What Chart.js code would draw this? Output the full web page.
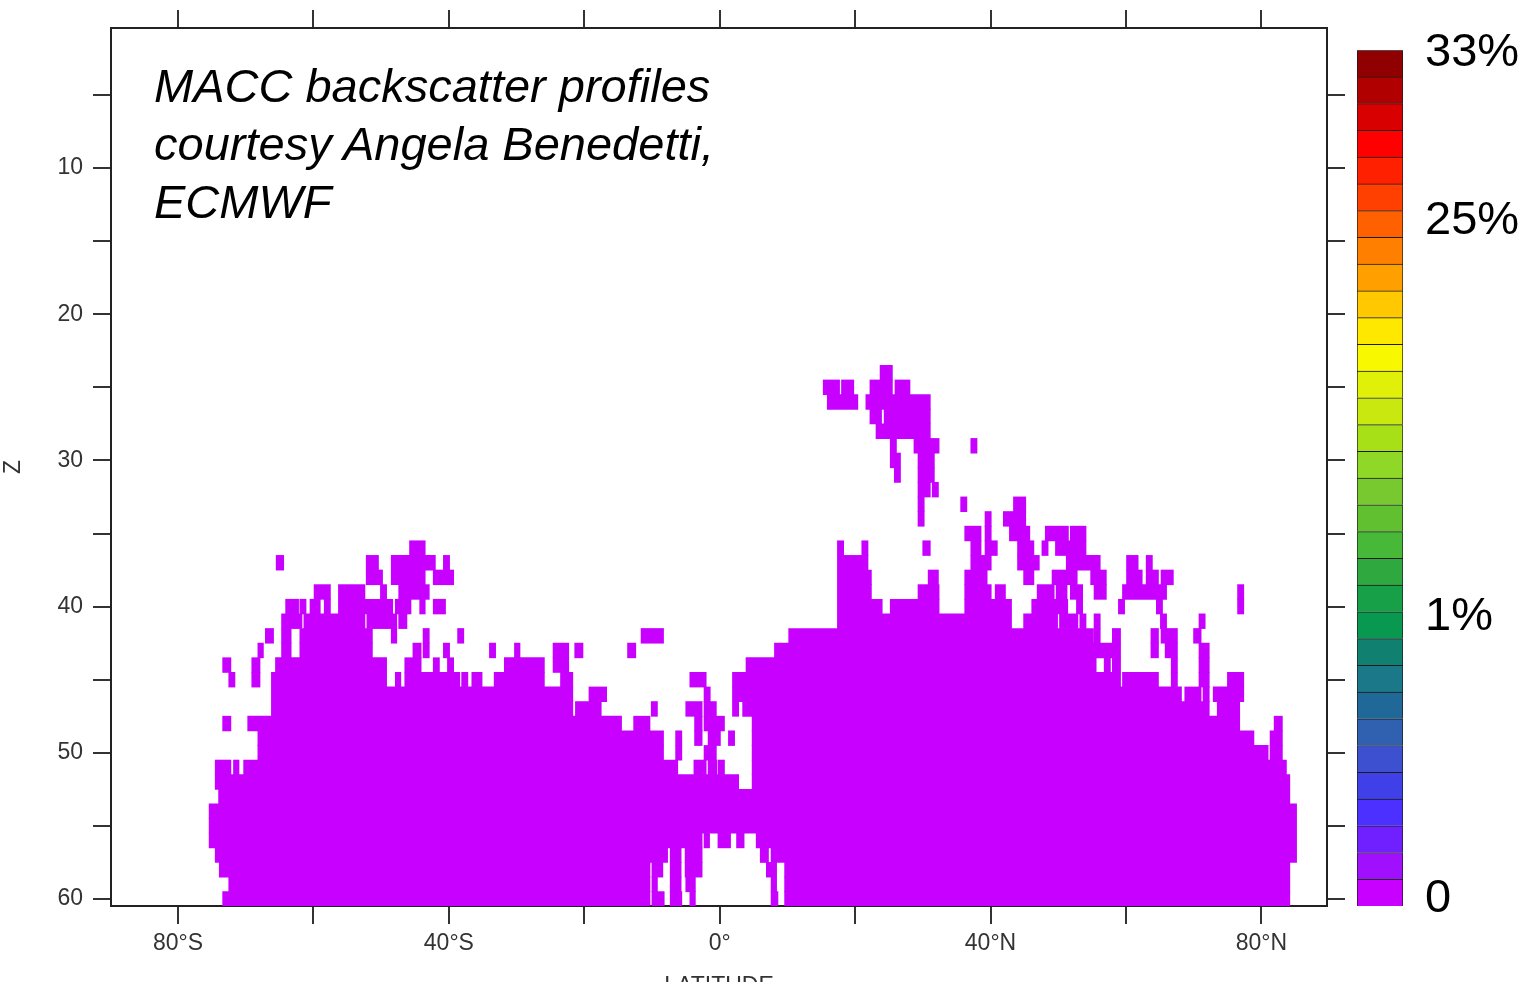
<!DOCTYPE html>
<html>
<head>
<meta charset="utf-8">
<title>MACC backscatter profiles</title>
<script src="https://cdn.jsdelivr.net/npm/chart.js@4/dist/chart.umd.min.js"></script>
<style>
html,body{margin:0;padding:0;background:#fff;overflow:hidden}
canvas{position:absolute;top:0}
#note{position:absolute;left:154px;top:57px;font:italic 47px/58px "Liberation Sans",Arial,sans-serif;color:#000;white-space:pre}
</style>
</head>
<body>
<canvas id="plot" width="1350" height="982" style="left:0"></canvas>
<canvas id="bar" width="187" height="986" style="left:1340px"></canvas>
<div id="note">MACC backscatter profiles
courtesy Angela Benedetti,
ECMWF</div>
<script>
const levelColors=['#c800ff','#a010ff','#7020ff','#4c30ff','#4040e8','#3c50d0','#3060b0','#206898','#1a7888','#108070','#089850','#18a048','#30a840','#48b838','#60c030','#78c830','#90d828','#a8e018','#c8e810','#e0f008','#f8f800','#ffe800','#ffc800','#ffa000','#ff8000','#ff6000','#ff4000','#ff2000','#ff0000','#d80000','#b00000','#900000'];
const latTicks=[-80,-60,-40,-20,0,20,40,60,80];
const latTickLabels=['80°S','','40°S','','0°','','40°N','','80°N'];
const zTicks=[5,10,15,20,25,30,35,40,45,50,55,60];
const zTickLabels=['','10','','20','','30','','40','','50','','60'];
const barTicks=[0.25,10.8,25.6,31.9];
const barTickLabels=['0','1%','25%','33%'];

// model levels that hold any backscatter, and the lat ranges (start,end,start,end...) on each
const presenceLevels=[24,25,26,27,28,29,30,31,32,33,34,35,36,37,38,39,40,41,42,43,44,45,46,47,48,49,50,51,52,53,54,55,56,57,58,59,60];
const presenceRuns=[
[23.7,25.5],
[15.3,17.7,18,19.8,22.2,25.5,25.9,28.1],
[15.9,20.4,21.6,31.1],
[22.2,23.9,24.3,31.1],
[23.1,31.1],
[25.2,26.1,28.7,32.4,37.1,38],
[25.2,26.7,29.3,31.7],
[25.8,26.7,29.3,31.7],
[29.3,31.1,31.4,32.3],
[29.3,30.2,35.6,36.5,43.4,45.2],
[29.3,30.2,39.2,40.1,41.9,45.2],
[36.2,38.6,39.2,40.1,42.8,45.8,48.1,51.5,51.8,54.1],
[-45.8,-43.5,17.4,18.3,21,21.9,30,31.1,37.1,38.6,39.2,41,44,46.4,47.6,48.5,49.6,54.1],
[-65.5,-64.4,-52.2,-50.4,-48.5,-42,-40.8,-39.9,17.4,21.9,37.1,40.1,44,47.2,51.2,56.2,60.1,61.8,63,63.9],
[-52.2,-49.8,-48.5,-43.5,-42.3,-39.3,17.4,22.4,30.8,32.3,36.2,39.5,44.9,46.4,49.1,52.8,54.8,57.1,60.1,62.4,63,64.8,65.2,67],
[-59.9,-57.5,-56.3,-52.4,-50.1,-49.2,-47.4,-42.9,17.4,22.4,29.3,32.4,36.2,40.1,40.7,42.2,46.9,49.4,49.7,51.3,51.8,53.6,55.3,57.1,59.5,66,76.5,77.4],
[-64.1,-62.2,-62,-61.1,-60.5,-59,-58.4,-57.5,-56.3,-48.3,-47.9,-45.6,-44.3,-43.5,-42.3,-40.5,17.4,24,25.2,32.4,36.2,43.1,46.1,51.4,52.7,53.6,58.9,59.8,64.5,65.4,76.5,77.4],
[-64.7,-61.7,-61.4,-52.4,-52.1,-47.7,-47.4,-46.2,17.4,43.1,44.9,49.9,50.2,52.9,53.2,54.1,55.3,56.2,65.1,66,70.8,71.7],
[-67.1,-65.9,-64.7,-63.3,-62,-51.3,-48.5,-47.7,-43.8,-42.9,-38.7,-37.8,-11.6,-8.3,10.2,55.2,55.3,56.2,58,59.2,63.7,64.8,65.2,67.6,70,71.1],
[-68.2,-67.4,-64.7,-63.3,-62,-51.3,-45.3,-44.1,-43.8,-42.9,-40.8,-39.9,-34,-33.1,-30.3,-29.5,-24.6,-22.3,-21.4,-20.2,-13.6,-12.4,8.1,59.2,63.7,64.8,65.8,67.6,70.8,72.3],
[-73.4,-72.2,-69.1,-67.9,-65.6,-49.2,-46.5,-44.1,-42.3,-41.4,-40.2,-39.3,-31.8,-25.9,-24.6,-22.3,3.9,55.6,56.8,57.7,58,59.2,66.7,67.6,70.8,72.3],
[-72.5,-71.6,-69.1,-67.9,-66.2,-49.2,-47.9,-47.1,-46.5,-38.4,-38.1,-37.2,-36.6,-35.1,-33.3,-25.9,-23.5,-21.7,-4.4,-2,1.9,59.2,59.5,64.8,66.7,67.6,70.8,72.3,75,77.4],
[-66.2,-21.7,-19.3,-16.7,-2.3,-1.4,1.9,68.2,68.7,71.1,71.4,72.3,72.9,77.4],
[-66.2,-21.7,-21.3,-17.5,-10.1,-9.2,-5,-2.6,-2.3,-0.5,1.9,2.8,3.4,72.3,73.5,76.8],
[-73.4,-72.2,-69.7,-14.5,-12.7,-10.3,-3.7,-2.6,-2.3,0.7,4.8,76.8,81.9,83.1],
[-68.2,-8.3,-6.5,-5.6,-3.7,-2.6,-1.7,0.1,1.3,2.2,4.8,78.9,81.3,83.1],
[-68.2,-8.3,-6.5,-5.6,-2.3,-0.5,4.8,81,81.3,83.1],
[-74.5,-72.2,-71.8,-71,-70.3,-6.2,-3.8,-2,-1.7,-0.4,-0.2,0.7,4.8,83.7],
[-74.5,2.8,4.8,84.2],
[-74,84.2],
[-75.4,85.2],
[-75.4,85.2],
[-75.4,-2.6,-2.3,-1.5,-0.25,1.6,2.5,3.6,5.4,85.2],
[-74.5,-7.7,-7.3,-5.7,-5.1,-2.6,6,7.2,7.6,85.2],
[-73.9,-10.3,-10,-8.4,-7.3,-5.7,-5.1,-2.6,6.9,8.4,9.6,84.2],
[-72.5,-10.3,-10,-9.2,-7.3,-5.7,-5,-3.6,7.6,8.4,9.6,84.2],
[-73.4,-10.3,-10,-8.2,-7.3,-5.6,-4.4,-3.6,7.6,8.6,9.6,84.2]
];

// shaded ranges above the lowest colour, as start,end,colour level
const shadeLevels=[42,43,44,45,46,47,48,49,50,51,52,53,54,55,56,57,58,59,60];
const shadeRuns=[
[22.2,30,1],
[12.3,14.4,1,14.4,28.8,2,28.8,30.8,1],
[9.6,11.1,1,11.1,12.3,2,12.3,14.5,3,14.5,20.1,4,20.1,22.2,3,22.2,27.8,2,27.8,30.8,1,37.2,41.4,1],
[8.9,9.6,1,9.6,11.1,2,11.1,13.8,3,13.8,17.3,5,17.3,18,4,18,19,5,19,21,4,21,23.2,3,23.2,25.1,2,25.1,28.6,1,33.5,41.9,1],
[9.6,11.1,2,11.1,12.3,3,12.3,20.1,4,20.1,21.6,3,21.6,23.2,2,23.2,26.4,1,32,37.7,1,37.7,41.4,2,42.9,43.4,1,44.8,45.4,1],
[8.9,10.3,1,10.3,12.3,2,12.3,20.9,3,20.9,22.2,2,22.2,23.6,1,29.3,36.2,1,36.2,37.7,2,37.7,41.4,3,41.9,45.3,1],
[-45.3,-41.7,1,9.1,13.3,1,13.3,20.9,2,20.9,23.2,1,27.8,31.5,1,31.5,36.2,2,36.2,37.7,3,37.7,39.2,4,39.2,39.9,5,39.9,41.4,4,41.4,42.9,3,42.9,46,1],
[-55.1,-46.5,1,-46.5,-38.1,2,-37.4,-36.6,2,-36.6,-29.8,1,-28.2,-24.6,1,9.6,16.8,1,16.8,18,2,18,30,1,30,36.2,2,36.2,37.7,3,37.7,39.4,6,39.4,39.9,8,39.9,40.9,6,40.9,42.6,5,42.6,44,2,44,58.1,1],
[-64.7,-60.6,1,-60.6,-55.1,2,-55.1,-48.5,3,-48.5,-43.2,4,-43.2,-40.2,3,-40.2,-34.6,2,-34.6,-25.6,1,11.1,12.3,1,13.3,28.8,1,28.8,34.2,2,34.2,34.9,3,34.9,36.2,2,36.2,38.7,5,38.7,41.4,7,41.4,42.9,5,42.9,45.4,2,45.4,53.9,1,53.9,54.7,2,54.7,58.1,1],
[-66.2,-64.7,1,-64.7,-63.6,2,-63.6,-61.6,3,-61.6,-59.1,5,-59.1,-57.2,6,-57.2,-55.1,8,-55.1,-51.5,9,-51.5,-48,8,-48,-45.3,7,-45.3,-43.2,5,-43.2,-40.2,4,-40.2,-38.7,3,-38.7,-34.5,2,-34.5,-31.3,1,-27.7,-25.6,1,14.5,22.2,1,23.6,27.8,1,27.8,35.7,2,35.7,37.7,4,37.7,40.6,8,40.6,42.9,7,42.9,44.8,3,44.8,46.1,2,46.1,49,1,49,58.1,2,58.1,59.6,1,71.4,77.1,1],
[-67.6,-66,1,-66,-64,3,-64,-61.8,5,-61.8,-60.4,8,-60.4,-59.6,10,-59.6,-57.9,12,-57.9,-56.3,15,-56.3,-53.7,17,-53.7,-52.7,19,-52.7,-50,17,-50,-47.8,14,-47.8,-46.5,13,-46.5,-44.1,10,-44.1,-42.9,8,-42.9,-40.2,6,-40.2,-38.2,5,-38.2,-37.4,3,-37.4,-34,2,-34,-23.6,1,-22.6,-22.1,1,14.5,27.8,1,27.8,35.7,2,35.7,37.7,4,37.7,38.4,7,38.4,40.6,9,40.6,43.4,7,43.4,45.1,4,45.1,54.7,3,54.7,56.2,4,56.2,58.9,3,58.9,71,1,71,74.9,2,74.9,77.1,1,77.1,81.3,2],
[-68,-65.6,2,-65.6,-64,3,-64,-63.5,5,-63.5,-62.1,9,-62.1,-60.6,13,-60.6,-59.4,17,-59.4,-57.9,20,-57.9,-57.2,23,-57.2,-55.7,25,-55.7,-52.7,27,-52.7,-51.5,25,-51.5,-50,24,-50,-48.5,21,-48.5,-47.3,19,-47.3,-46.1,15,-46.1,-43.4,12,-43.4,-41.4,9,-41.4,-39.9,7,-39.9,-38.2,5,-38.2,-36.7,4,-36.7,-33.3,3,-33.3,-29.6,2,-29.6,-21.4,1,-16.3,-15.8,1,13.3,18,2,18,24.4,1,24.4,35.7,2,35.7,38.4,5,38.4,41.9,9,41.9,43.4,7,43.4,45.3,6,45.3,53.2,5,53.2,54.7,4,54.7,56.9,5,56.9,58.9,4,58.9,63.6,2,63.6,70,1,70,71.4,2,71.4,71.9,3,71.9,79.8,2,79.8,81.3,1],
[-69.2,-67.5,1,-67.5,-65.5,3,-65.5,-64.2,5,-64.2,-63.5,8,-63.5,-62.3,12,-62.3,-60.6,17,-60.6,-59.2,20,-59.2,-58.4,23,-58.4,-57.2,28,-57.2,-55.7,29,-55.7,-54.1,31,-54.1,-52.7,30,-52.7,-50,29,-50,-48.5,25,-48.5,-47.8,22,-47.8,-46.3,18,-46.3,-44.4,14,-44.4,-42.9,10,-42.9,-40.2,8,-40.2,-37.4,6,-37.4,-33.3,4,-33.3,-32.5,3,-32.5,-29.8,2,-29.8,-27.7,1,-27.7,-26.1,2,-26.1,-25.6,1,-25.6,-24.6,2,-24.6,-19.8,1,-18.4,-17.7,1,-16.8,-9.5,1,12.3,13.8,2,13.8,16,3,16,16.8,4,16.8,19,3,19,27.8,2,27.8,30.8,3,30.8,35.7,2,35.7,38.4,5,38.4,41.1,9,41.1,41.9,10,41.9,43.4,9,43.4,44.8,8,44.8,49.5,7,49.5,54,5,54,54.8,6,54.8,59.1,5,59.1,63.1,3,63.1,64.5,2,64.5,65.8,1,65.8,71,2,71,72.9,3,72.9,79.8,2,79.8,81.8,1],
[-69.2,-67.5,1,-67.5,-65.6,3,-65.6,-64,5,-64,-63.5,8,-63.5,-62.1,12,-62.1,-60.6,18,-60.6,-59.2,21,-59.2,-58.4,25,-58.4,-57.6,29,-57.6,-56.4,30,-56.4,-55,31,-55,-54,30,-54,-52,28,-52,-50,27,-50,-49.4,25,-49.4,-48,22,-48,-46.4,18,-46.4,-44.4,14,-44.4,-42.4,10,-42.4,-40.2,8,-40.2,-38.9,7,-38.9,-35,5,-35,-32.5,3,-32.5,-30.4,2,-30.4,-22,1,-14.8,-11.6,1,-10.1,-9.5,1,13.3,14,2,14,16.8,4,16.8,18,6,18,20.2,4,20.2,21.6,3,21.6,27.3,2,27.3,31.5,3,31.5,35.7,2,35.7,38.4,6,38.4,44.1,9,44.1,45.1,8,45.1,51.2,7,51.2,53.7,6,53.7,58.1,5,58.1,59.4,4,59.4,62.1,3,62.1,64.5,2,64.5,65.8,1,65.8,69,2,69,71,1,71,72.9,3,72.9,75.1,2,75.1,77.8,3,77.8,80.8,2],
[-69.2,-67.7,1,-67.7,-65.6,3,-65.6,-64,5,-64,-62.8,9,-62.8,-61.8,14,-61.8,-60.6,19,-60.6,-59.2,20,-59.2,-58.4,23,-58.4,-53.7,28,-53.7,-52.5,27,-52.5,-50.8,25,-50.8,-49.5,24,-49.5,-48.5,20,-48.5,-47.3,15,-47.3,-45.3,13,-45.3,-42.4,10,-42.4,-39.4,8,-39.4,-36,6,-36,-34,5,-34,-30.3,3,-30.3,-29.6,2,-29.6,-23.4,1,13.3,15.3,3,15.3,17.7,5,17.7,20.2,4,20.2,21.6,3,21.6,26.4,2,26.4,30,3,30,35.7,2,35.7,38.2,5,38.2,39.7,7,39.7,43.8,9,43.8,46,7,46,47.5,6,47.5,49.5,7,49.5,55.9,5,55.9,58.9,4,58.9,61.8,3,61.8,63.8,2,63.8,66.5,1,66.5,67.2,2,67.2,69.5,1,69.5,71,2,71,72.9,3,72.9,75.1,2,75.1,77.8,3,77.8,79.8,2,79.8,80.8,1],
[-69.2,-67.5,1,-67.5,-65.6,3,-65.6,-63.6,5,-63.6,-62.6,10,-62.6,-61.8,16,-61.8,-60.4,17,-60.4,-59.4,19,-59.4,-58.4,22,-58.4,-55.2,26,-55.2,-54.2,24,-54.2,-52.2,23,-52.2,-50.5,22,-50.5,-49.5,19,-49.5,-48,15,-48,-46.6,13,-46.6,-44.3,10,-44.3,-42.4,8,-42.4,-39.4,7,-39.4,-37.4,5,-37.4,-35.5,4,-35.5,-33.8,3,-33.8,-29.6,2,-29.6,-28.2,1,-27.7,-24,1,13.8,15.3,3,15.3,17.7,4,17.7,20.9,5,20.9,21.6,3,21.6,23.6,2,23.6,25.1,1,25.1,27.3,2,27.3,28.8,3,28.8,32,2,32,33,1,33,36.2,2,36.2,37.7,4,37.7,39.7,7,39.7,41.4,8,41.4,43.8,9,43.8,45.6,7,45.6,47,5,47,50,7,50,55.4,5,55.4,57.9,4,57.9,60.1,3,60.1,63.1,2,63.1,70,1,70,71.4,2,71.4,72.2,3,72.2,75.1,2,75.1,76.6,3,76.6,77.1,2,77.1,77.8,3,77.8,79.3,2,79.3,80.8,1],
[-68.2,-67,1,-67,-65.6,3,-65.6,-63.6,5,-63.6,-62.6,10,-62.6,-61.3,15,-61.3,-60.4,17,-60.4,-58.4,19,-58.4,-57.2,22,-57.2,-56.4,24,-56.4,-55,25,-55,-53.7,23,-53.7,-52.7,21,-52.7,-50.8,20,-50.8,-49.5,18,-49.5,-48,15,-48,-46.6,12,-46.6,-45.3,10,-45.3,-42.9,8,-42.9,-39.7,7,-39.7,-37.4,5,-37.4,-35,3,-35,-29.8,2,-29.8,-29.6,1,-27.7,-24,1,14.1,15.3,3,15.3,17.3,4,17.3,18.2,5,18.2,20.9,4,20.9,21.6,3,21.6,23.6,2,23.6,25.6,1,25.6,31.5,2,31.5,35.7,1,35.7,37.7,3,37.7,39.4,6,39.4,41.6,7,41.6,43.8,9,43.8,45.3,6,45.3,51.7,5,51.7,54,4,54,54.7,5,54.7,55.9,4,55.9,58.9,3,58.9,62.1,2,62.1,71,1,71,79.8,2],
[-68.2,-67.5,2,-67.5,-65.6,3,-65.6,-64,5,-64,-63.1,8,-63.1,-62.1,12,-62.1,-61.3,15,-61.3,-60.1,17,-60.1,-57.9,19,-57.9,-56.4,23,-56.4,-55,24,-55,-53.7,22,-53.7,-51.7,20,-51.7,-50.8,19,-50.8,-49.5,17,-49.5,-48,14,-48,-46.8,11,-46.8,-45.3,10,-45.3,-42.9,7,-42.9,-40.9,6,-40.9,-38.4,4,-38.4,-35.5,3,-35.5,-32.3,2,-32.3,-29.8,1,-27.7,-24,1,14.1,15.3,3,15.3,17.3,4,17.3,19.5,6,19.5,21.4,4,21.4,23.6,2,23.6,25.9,1,25.9,31.5,2,31.5,35.7,1,35.7,37.7,3,37.7,39.4,6,39.4,41.9,7,41.9,44.1,9,44.1,45.3,7,45.3,51.2,5,51.2,55.9,4,55.9,59.1,3,59.1,61.6,2,61.6,64.5,1,65.5,71,1,71,78.6,2,78.6,79.8,1],
[-68.2,-67.5,1,-67.5,-66.1,2,-66.1,-64.3,4,-64.3,-63.6,6,-63.6,-62.8,9,-62.8,-61.9,12,-61.9,-60.6,16,-60.6,-59.2,18,-59.2,-58.4,20,-58.4,-57.2,23,-57.2,-56.4,24,-56.4,-55.1,25,-55.1,-53.7,23,-53.7,-52.2,22,-52.2,-50.8,20,-50.8,-49.5,18,-49.5,-48.3,16,-48.3,-47.3,14,-47.3,-45.3,11,-45.3,-42.9,8,-42.9,-39.9,6,-39.9,-37.4,5,-37.4,-35.5,3,-35.5,-32.5,2,-32.5,-29.8,1,-27.7,-24,1,14.1,15.3,3,15.3,17.3,4,17.3,19.5,6,19.5,21.4,4,21.4,23.6,2,23.6,25.9,1,25.9,31.5,2,31.5,35.7,1,35.7,37.7,3,37.7,39.4,5,39.4,41.9,7,41.9,44.9,9,44.9,46.1,8,46.1,51.7,5,51.7,55.9,4,55.9,59.6,3,59.6,62.1,2,62.1,65.3,1,65.8,71,1,71,78.6,2,78.6,79.8,1]
];

const tickFont={family:'"Liberation Sans",Arial,sans-serif',size:23};
const inkColor='#333';

let presenceBars=[];
presenceLevels.forEach((z,i)=>{
  for(let k=0;k<presenceRuns[i].length;k+=2)presenceBars.push({x:[presenceRuns[i][k],presenceRuns[i][k+1]],y:z});
});
let shadeBars=[],shadeColors=[];
shadeLevels.forEach((z,i)=>{
  for(let k=0;k<shadeRuns[i].length;k+=3){
    shadeBars.push({x:[shadeRuns[i][k],shadeRuns[i][k+1]],y:z});
    shadeColors.push(levelColors[shadeRuns[i][k+2]]);
  }
});

function frameAxis(extra){
  return Object.assign({
    border:{color:'#222',width:2},
    grid:{drawOnChartArea:false,color:inkColor,tickLength:18,lineWidth:2,offset:false},
    offset:false
  },extra);
}
function latAxis(extra){
  return frameAxis(Object.assign({
    type:'linear',min:-89.9,max:89.7,
    afterBuildTicks:a=>{a.ticks=latTicks.map(v=>({value:v}))}
  },extra));
}
function zAxis(extra){
  return frameAxis(Object.assign({
    type:'linear',min:0.42,max:60.48,reverse:true,
    afterBuildTicks:a=>{a.ticks=zTicks.map(v=>({value:v}))}
  },extra));
}

new Chart(document.getElementById('plot'),{
  type:'bar',
  data:{datasets:[
    {data:presenceBars,backgroundColor:levelColors[0],grouped:false,barPercentage:1,categoryPercentage:1,inflateAmount:0.4},
    {data:shadeBars,backgroundColor:shadeColors,grouped:false,barPercentage:1,categoryPercentage:1,inflateAmount:0.4}
  ]},
  options:{
    indexAxis:'y',responsive:false,animation:false,devicePixelRatio:1,
    layout:{padding:0},
    plugins:{legend:{display:false},tooltip:{enabled:false},title:{display:false}},
    scales:{
      x:latAxis({
        position:'bottom',
        afterFit:a=>{a.height=76},
        ticks:{autoSkip:false,maxRotation:0,font:tickFont,color:inkColor,padding:6,callback:v=>latTickLabels[latTicks.indexOf(v)]},
        title:{display:true,text:'LATITUDE',font:tickFont,color:inkColor,padding:{top:0,bottom:-18}}
      }),
      xTop:latAxis({
        position:'top',axis:'x',
        afterFit:a=>{a.height=28},
        ticks:{display:false}
      }),
      y:zAxis({
        position:'left',
        afterFit:a=>{a.width=111},
        ticks:{autoSkip:false,font:tickFont,color:inkColor,padding:10,callback:v=>zTickLabels[zTicks.indexOf(v)]},
        title:{display:true,text:'Z',font:tickFont,color:inkColor,padding:{top:0,bottom:11}}
      }),
      yRight:zAxis({
        position:'right',axis:'y',
        afterFit:a=>{a.width=23},
        ticks:{display:false}
      })
    }
  }
});

new Chart(document.getElementById('bar'),{
  type:'bar',
  data:{labels:[''],datasets:levelColors.map(c=>({data:[1],backgroundColor:c,borderColor:'#1c1c1c',borderWidth:1,barPercentage:1,categoryPercentage:1}))},
  options:{
    responsive:false,animation:false,devicePixelRatio:1,
    layout:{padding:{top:28,bottom:80,left:17,right:0}},
    plugins:{legend:{display:false},tooltip:{enabled:false}},
    scales:{
      x:{stacked:true,display:false},
      y:{
        stacked:true,min:0,max:32,position:'right',
        afterFit:a=>{a.width=124},
        afterBuildTicks:a=>{a.ticks=barTicks.map(v=>({value:v}))},
        border:{display:false},
        grid:{display:false,drawTicks:false},
        ticks:{autoSkip:false,maxRotation:0,padding:22,color:'#000',font:{family:'"Liberation Sans",Arial,sans-serif',size:47},callback:v=>barTickLabels[barTicks.indexOf(v)]}
      }
    }
  }
});
</script>
</body>
</html>
